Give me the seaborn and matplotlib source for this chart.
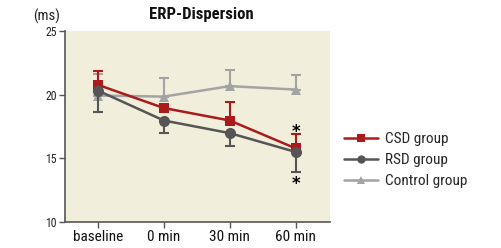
import matplotlib
matplotlib.use("Agg")
import matplotlib.pyplot as plt
import seaborn as sns
import pandas as pd
import numpy as np

categories = ["baseline", "0 min", "30 min", "60 min"]
groups = ["CSD group", "RSD group", "Control group"]
csd = [20.77, 18.95, 17.97, 15.78]
rsd = [20.32, 17.97, 16.98, 15.5]
control = [19.93, 19.85, 20.67, 20.4]
csd_err_up = [1.05, 0.0, 1.45, 1.1]
rsd_err_down = [1.65, 1.0, 1.0, 1.6]
control_err_up = [1.7, 1.47, 1.27, 1.12]
yticks = [10, 15, 20, 25]

colors = {"CSD group": "#ac1a1c", "RSD group": "#555555", "Control group": "#a3a3a3"}
markers = {"CSD group": "s", "RSD group": "o", "Control group": "^"}

sns.set_theme(style="white")
plt.rcParams["font.family"] = ["Roboto Condensed", "DejaVu Sans"]

rows = []
for g, vals in zip(groups, [csd, rsd, control]):
    for i, (c, v) in enumerate(zip(categories, vals)):
        rows.append({"group": g, "x": i, "value": v})
df = pd.DataFrame(rows)

fig = plt.figure(figsize=(5.02, 2.48), dpi=100)
ax = fig.add_axes([65/502, 1-222/248, (330-65)/502, (222-31)/248])
ax.set_facecolor("#f2eedc")

xs = np.arange(len(categories))
# error bars
ax.errorbar(xs, control, yerr=[np.zeros(4), control_err_up], fmt="none",
            ecolor=colors["Control group"], elinewidth=1.5, capsize=3.5, capthick=1.5, zorder=2)
ax.errorbar(xs, csd, yerr=[np.zeros(4), csd_err_up], fmt="none",
            ecolor=colors["CSD group"], elinewidth=1.5, capsize=3.5, capthick=1.5, zorder=3)
ax.errorbar(xs, rsd, yerr=[rsd_err_down, np.zeros(4)], fmt="none",
            ecolor=colors["RSD group"], elinewidth=1.5, capsize=3.5, capthick=1.5, zorder=4)

order_z = {"Control group": 2.5, "CSD group": 3.5, "RSD group": 4.5}
msize = {"CSD group": 7, "RSD group": 8, "Control group": 7}
for g in ["Control group", "CSD group", "RSD group"]:
    sub = df[df.group == g]
    sns.lineplot(data=sub, x="x", y="value", ax=ax, color=colors[g], marker=markers[g],
                 markersize=msize[g], markeredgewidth=0, linewidth=1.8, label=g,
                 zorder=order_z[g])

# significance asterisks
ax.text(3, 17.05, "*", ha="center", va="center", fontsize=12, fontweight="bold",
        color="black", family="DejaVu Sans")
ax.text(3, 12.95, "*", ha="center", va="center", fontsize=12, fontweight="bold",
        color="black", family="DejaVu Sans")

ax.set_xlim(-0.5, 3.52)
ax.set_ylim(10, 25)
ax.set_xticks(xs)
ax.set_xticklabels(categories, fontsize=11, color="#111111")
ax.set_yticks(yticks)
ax.set_yticklabels([str(t) for t in yticks], fontsize=8.5, color="#222222")
ax.set_xlabel("")
ax.set_ylabel("")
for s in ["top", "right"]:
    ax.spines[s].set_visible(False)
for s in ["left", "bottom"]:
    ax.spines[s].set_color("#555555")
    ax.spines[s].set_linewidth(1.2)
ax.tick_params(axis="both", which="both", direction="out", length=4, width=1,
               color="#555555", bottom=True, left=True, pad=2)

h, l = ax.get_legend_handles_labels()
order = [l.index(g) for g in groups]
leg = fig.legend([h[i] for i in order], [l[i] for i in order], loc="upper left",
                 bbox_to_anchor=(338/502, 1-126/248), frameon=False, fontsize=11,
                 handlelength=2.2, labelspacing=0.45, handletextpad=0.45, borderaxespad=0)
for lh in leg.legend_handles:
    lh.set_markersize(6)
ax.get_legend().remove()

fig.text(201/502, 1-14/248, "ERP-Dispersion", ha="center", va="center",
         fontsize=12, fontweight="bold", color="#111111")
fig.text(47/502, 1-16/248, "(ms)", ha="center", va="center", fontsize=10.5, color="#222222")

fig.savefig("out.png", dpi=100, facecolor="white")
